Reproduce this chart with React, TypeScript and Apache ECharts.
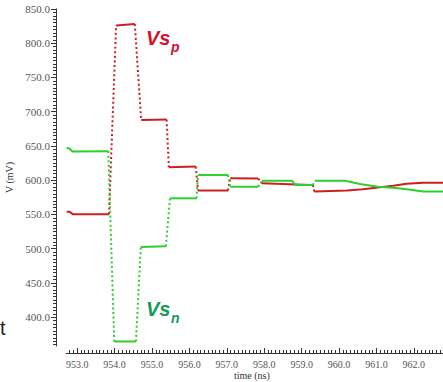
import React, { useEffect, useRef } from 'react';
import * as echarts from 'echarts';

// Tick values shown on axes
const xTickValues = [953, 954, 955, 956, 957, 958, 959, 960, 961, 962];
const yTickValues = [400, 450, 500, 550, 600, 650, 700, 750, 800, 850];

// Vs_p (red): flat portions, [time ns, mV]
const vspSegments: number[][][] = [
  [[952.72, 554], [952.8, 554], [952.88, 550.5], [953.85, 550.5]],
  [[954.04, 826], [954.54, 828]],
  [[954.71, 688], [955.39, 688.5]],
  [[955.45, 619], [956.17, 620]],
  [[956.23, 585], [957.03, 585]],
  [[957.09, 603], [957.84, 602.5]],
  [[957.94, 595.5], [959.23, 593], [959.3, 593]],
  [[959.34, 583.5], [960.21, 585], [960.64, 587], [961.04, 589.5], [961.45, 592], [961.81, 595], [962.25, 596.5], [962.78, 596.5]],
];

// Vs_n (green): flat portions, [time ns, mV]
const vsnSegments: number[][][] = [
  [[952.72, 647.5], [952.8, 646], [952.87, 642], [953.83, 642.5]],
  [[953.99, 364.6], [954.57, 364.6]],
  [[954.7, 502.5], [955.37, 503.5]],
  [[955.48, 573.6], [956.19, 573.6]],
  [[956.23, 607.6], [957.03, 607.6]],
  [[957.09, 590.5], [957.84, 590.5]],
  [[957.94, 599.3], [958.74, 599.3], [958.83, 593], [959.3, 593]],
  [[959.36, 599.3], [960.16, 599.3], [960.56, 594.5], [961.04, 590.5], [961.45, 589], [961.81, 586.7], [962.25, 583.5], [962.78, 583.5]],
];

const RED = '#cc1f1f';
const GREEN = '#2ccf2c';

function buildSeries(segments: number[][][], color: string, name: string) {
  const out: any[] = [];
  segments.forEach((seg, i) => {
    out.push({
      type: 'line',
      name,
      data: seg,
      showSymbol: false,
      silent: true,
      lineStyle: { color, width: 2 },
      z: 3,
    });
    if (i < segments.length - 1) {
      const next = segments[i + 1];
      out.push({
        type: 'line',
        name,
        data: [seg[seg.length - 1], next[0]],
        showSymbol: false,
        silent: true,
        lineStyle: { color, width: 2, type: [2, 2.6] },
        z: 2,
      });
    }
  });
  return out;
}

const serif = 'Liberation Serif, serif';
const sans = 'Liberation Sans, Arial, sans-serif';

export default function App() {
  const ref = useRef<HTMLDivElement>(null);
  useEffect(() => {
    if (!ref.current) return;
    const chart = echarts.init(ref.current, undefined, { renderer: 'svg' });
    chart.setOption({
      animation: false,
      backgroundColor: '#ffffff',
      textStyle: { fontFamily: serif },
      grid: { left: 66, right: 0, top: 9, bottom: 36, containLabel: false, outerBoundsMode: 'none' },
      xAxis: {
        type: 'value',
        min: 952.7,
        max: 962.78,
        splitNumber: 10,
        offset: 7,
        axisLine: { show: true, lineStyle: { color: '#333', width: 1 } },
        axisTick: { show: true, inside: true, length: 5, customValues: xTickValues, lineStyle: { color: '#333' } },
        minorTick: { show: true, splitNumber: 10, length: 3, lineStyle: { color: '#333' } },
        axisLabel: {
          customValues: xTickValues,
          formatter: (v: number) => v.toFixed(1),
          fontFamily: serif,
          fontSize: 10,
          color: '#555',
          margin: 6,
        },
        splitLine: { show: false },
      },
      yAxis: {
        type: 'value',
        min: 358,
        max: 850,
        splitNumber: 10,
        offset: 10,
        axisLine: { show: true, lineStyle: { color: '#333', width: 1 } },
        axisTick: { show: true, inside: false, length: 5, customValues: yTickValues, lineStyle: { color: '#333' } },
        minorTick: { show: true, splitNumber: 10, length: 3, lineStyle: { color: '#333' } },
        axisLabel: {
          customValues: yTickValues,
          formatter: (v: number) => v.toFixed(1),
          fontFamily: serif,
          fontSize: 11,
          color: '#555',
          margin: 6,
        },
        splitLine: { show: false },
        name: 'V (mV)',
        nameLocation: 'middle',
        nameGap: 38,
        nameTextStyle: { fontFamily: serif, fontSize: 10, color: '#333' },
      },
      series: [...buildSeries(vspSegments, RED, 'Vsp'), ...buildSeries(vsnSegments, GREEN, 'Vsn')],
      graphic: [
        { type: 'text', left: 146, top: 28, style: { text: 'Vs', font: `italic bold 20px ${sans}`, fill: '#d4102c' } },
        { type: 'text', left: 171, top: 40, style: { text: 'p', font: `italic bold 14px ${sans}`, fill: '#d4102c' } },
        { type: 'text', left: 146, top: 299, style: { text: 'Vs', font: `italic bold 20px ${sans}`, fill: '#139c55' } },
        { type: 'text', left: 171, top: 311, style: { text: 'n', font: `italic bold 14px ${sans}`, fill: '#139c55' } },
        { type: 'text', left: 0, top: 318, style: { text: 't', font: `20px ${sans}`, fill: '#222' } },
        { type: 'text', left: 234, top: 370, style: { text: 'time (ns)', font: `10px ${serif}`, fill: '#333' } },
      ],
    });
    return () => chart.dispose();
  }, []);
  return <div ref={ref} style={{ position: 'fixed', left: 0, top: 0, width: 443, height: 382 }} />;
}
